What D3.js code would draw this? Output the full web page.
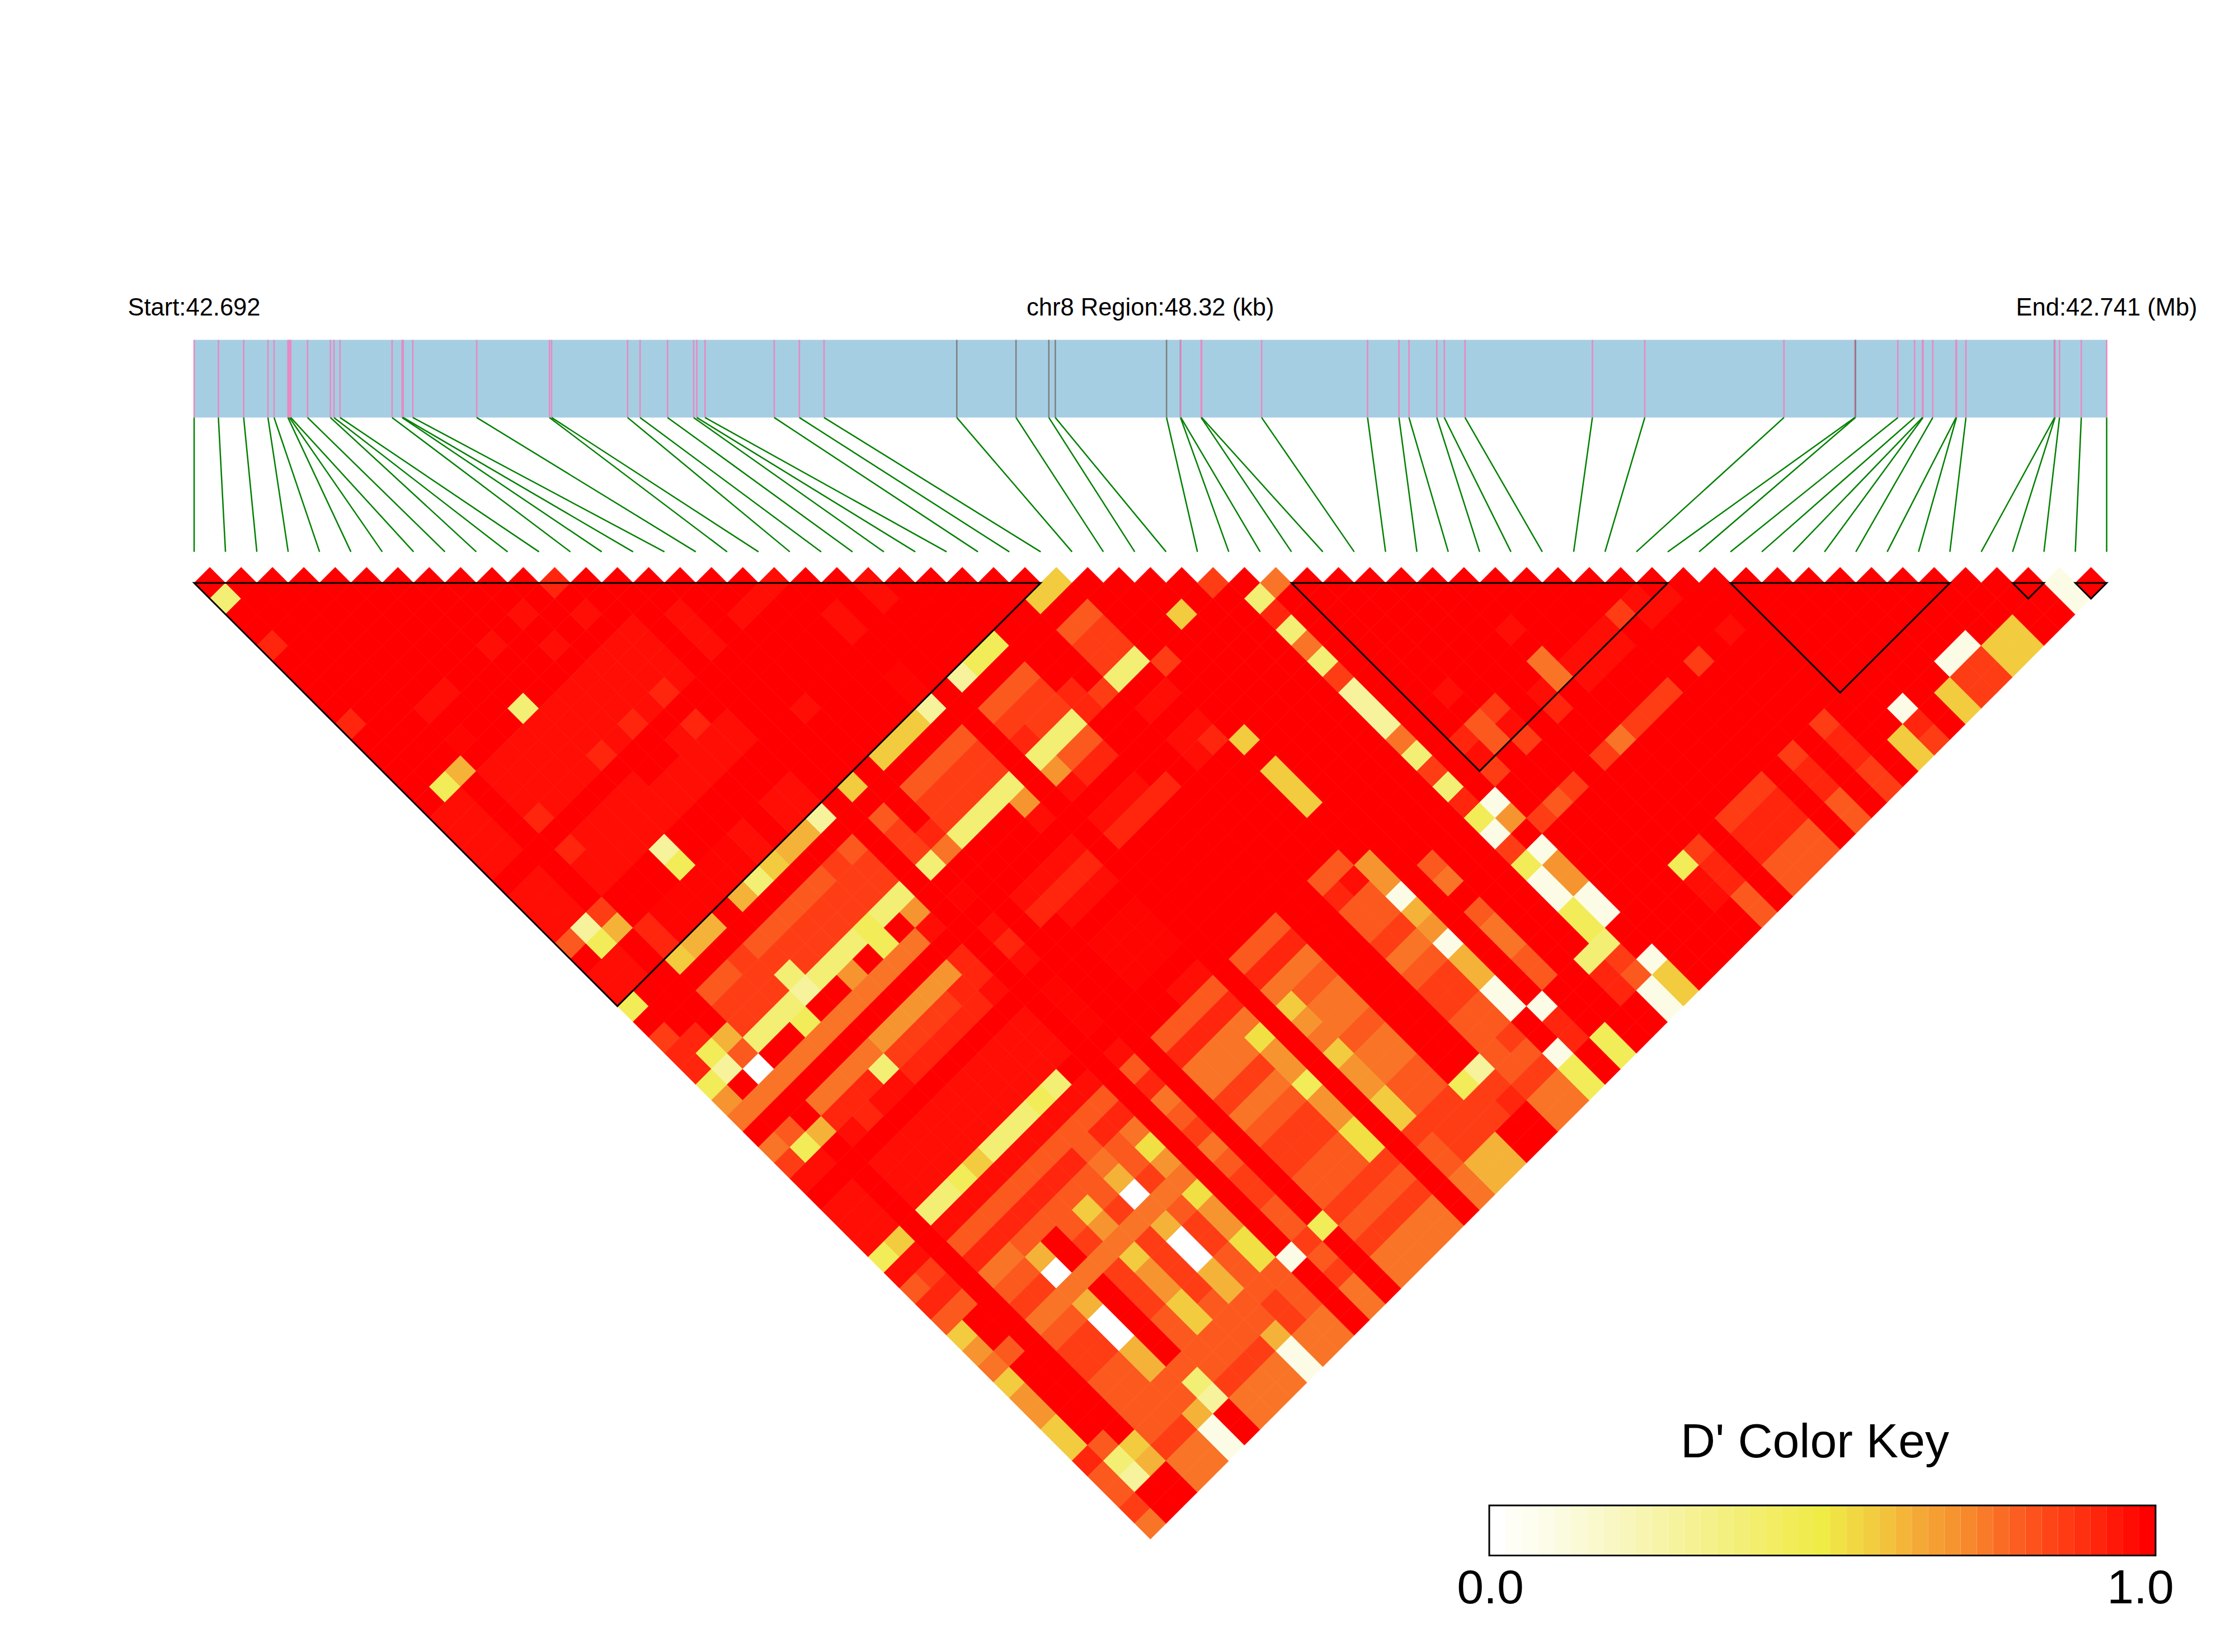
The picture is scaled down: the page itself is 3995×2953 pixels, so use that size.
<!DOCTYPE html>
<html>
<head>
<meta charset="utf-8">
<script src="https://cdn.jsdelivr.net/npm/d3@7"></script>
<style>html,body{margin:0;padding:0;background:#fff}svg{display:block}text{font-family:"Liberation Sans",Arial,sans-serif;fill:#000}</style>
</head>
<body>
<svg id="c" width="3995" height="2953"></svg>
<script>
// SNP positions along the region, in kb from its start
const regionKb = 48.32;
const snpKb = [0,0.613,1.252,1.865,2.02,2.37,2.407,2.442,2.866,3.443,3.533,3.686,5.002,5.255,5.282,5.525,7.139,8.978,9.032,10.952,11.267,11.961,12.62,12.7,12.908,14.656,15.292,15.914,19.268,20.765,21.594,21.757,24.568,24.92,24.93,25.442,25.456,26.97,29.647,30.44,30.693,31.396,31.585,32.109,35.327,36.651,40.167,41.956,41.974,43.044,43.466,43.665,43.68,43.927,44.515,44.526,44.765,47.005,47.016,47.129,47.679,48.32];
const greySnps = [28,29,30,31,32,33,48,57];
const blocks = [[0,27],[35,47],[49,56],[58,59],[60,61]];
const keyStops = [0,0.1,0.25,0.35,0.45,0.5,0.55,0.6,0.65,0.7,0.75,0.8,0.85,0.9,0.95,1];
const keyColours = ["#ffffff","#fbfbe0","#f7f4a8","#f4f080","#f1ec58","#efec46","#f1d842","#f3c23c","#f4a836","#f6952f","#f97a28","#fb5e20","#fe4518","#ff3010","#ff1808","#ff0000"];
const keySteps = 41;
const levels = {w:0,c:0.08,m:0.28,l:0.38,y:0.45,Y:0.53,h:0.58,g:0.63,q:0.7,p:0.76,o:0.81,t:0.87,s:0.92,r:0.97,z:0.99,R:1};
const baseD = 1;
// D' read per first SNP i: "j:level" or "jFrom-jTo:level"; unlisted pairs are at baseD
const rowD = [
"2:l 5:s 10:s 16-19:r 21-23:r 24:o 25:R 26-27:r 28:y 30:t 31-32:s 33:y 34:q 35:p 37:p 38:t 39:r 41-43:r 44:y 45:r 46:o 47:s 48:o 49:h 50:q 51:p 52:h 53-54:q 55-56:h 57:s 58:o 59:o 60:t 61:p",
"15:y 16-19:r 21-23:r 24:m 25:y 26-27:r 31:s 32:y 33:m 35:p 37:o 38:y 39:r 41-43:r 44:h 45:r 46:t 47:s 48:o 51:o 57:o 58:l 59:m",
"15:g 24:t 25:g 32:g 33:o 34:w 35:p 38:g 58:h 59:g",
"12:r 14:z 16-18:r 19:s 21:s 22-23:r 26-27:s 28:h 30:o 31:t 32:t 33:l 35:p 37:p 38:s 39:r 41-43:r 44:l 45:r 46:o 47:s 48:p 49:o 50:t 51:p 52:o 53-54:t 55-56:o 57:o 58:o 59:t 60-61:p",
"12:r 16-19:r 21-23:r 26-27:z 28:g 30:o 31:t 32:t 33:l 35:p 37:p 38:s 39:s 41-43:r 44:l 45:r 46:o 47:s 48:p 49:o 50:t 51:p 52:o 53-54:t 55-56:o 57:o 58:o 59:t 60-61:p",
"16-19:r 21-23:r 26-27:z 28:g 30:t 31:t 32:t 33:l 34:y 35:p 37:p 38:s 39:r 41-43:r 44:y 45:r 46:o 47:s 48:o 49:g 50:w 51:p 52:g 53-54:w 55-56:g 57:o 58:o 59:g 60-61:c",
"15:l 16-19:r 21-23:r 24:m 25:y 26-27:z 30:o 31:t 32:l 33:m 35:p 37:p 38:l 39:r 41-43:r 44:h 45:r 46:o 47:s 48:o 51:p 57:o 58:l 59:m",
"12:r 16-18:r 19:s 21-23:r 26-27:z 28:g 30:o 31:t 32:t 33:l 35:p 37:q 38:t 39:s 41-43:r 44:l 45:r 46:o 47:s 48:o 49:o 50:t 51:p 52:t 53-54:t 55-56:o 57:o 58:o 59:t 60-61:p",
"16-19:r 22-23:r 26-27:z 28:l 30:o 31:t 32:t 33:l 34:q 35:p 37:q 38:t 39:s 41-43:r 44:l 45:r 46:o 47:s 48:o 49:h 50:q 51:p 52:h 53-54:q 55-56:h 57:o 58:o 59:t 60-61:p",
"12:r 14:r 16-18:r 19:s 22-23:r 26-27:r 28:h 30:o 31:t 32:t 33:l 35:p 37:q 38:t 39:s 41-43:r 44:l 45:r 46:o 47:s 48:o 49:o 50:t 51:p 52:t 53-54:t 55:t 56:o 57:o 58:o 59:t 60-61:p",
"16-19:r 21-23:r 28:g 30:o 31:t 32:t 33:y 34:y 35:p 37:q 38:t 39:s 41-43:r 44:y 45:r 46:o 47:o 48:p 49:g 50:w 51:p 52:g 53-54:w 55-56:g 57:o 58:o 59:g 60-61:c",
"12:s 14:r 16-18:r 19:s 21:s 22-23:r 26-27:r 28:g 30:t 31:t 32:t 33:l 35:p 37:q 38:s 39:s 41-43:r 44:l 45:r 46:o 47:s 48:o 49:o 50:t 51:p 52:o 53-54:t 55-56:o 57:o 58:t 59:t 60-61:p",
"16-19:r 22-23:r 26-27:r 28:m 30:o 31:t 32:t 33:l 34:q 35:r 37:s 38:s 39:r 41-43:r 45:r 46:o 47:s 48:p 49:Y 50:q 51:p 52:Y 53-54:q 55-56:Y 57:o 58:o 59:o 60-61:p",
"57:c",
"17-19:r 28:h 30:o 31:t 32:t 33:l 35:z 37:r 38:s 39:r 41-43:z 45:r 46:o 47:s 48:p 49:o 50:t 51:p 52:o 53-54:t 55-56:o 57:t 58:o 59:t 60-61:p",
"24:r 32:s 33:p 57:y",
"19:r 28:h 30:o 31:t 32:t 33:l 37:r 38:s 46:o 47:s 48:p 49:p 50:t 51:p 52:o 53-54:t 55-56:o 57:t 58:o 59:t 60-61:p",
"19:r 28:h 30:o 31:t 32:t 33:l 37:r 38:s 39:r 41-43:z 46:o 47:s 48:p 49:p 50:t 51:p 52:o 53-54:t 55-56:o 57:t 58:o 59:t 60-61:p",
"19:r 28:h 30:o 31:t 32:t 33:l 37:r 38:s 39:r 41-43:z 45:r 46:o 47:s 48:p 49:p 50:t 51:p 52:o 53-54:t 55-56:o 57:t 58:o 59:t 60-61:p",
"22-23:r 26-27:z 28:m 30:o 31:t 32:t 33:l 34:q 35:r 37:r 38:s 39:r 41-43:z 45:r 46:o 47:s 48:p 49:Y 50:q 51:q 52:y 53-54:q 55-56:Y 57:t 58:o 59:t 60-61:p",
"",
"22-23:r 28:m 30:o 31:t 32:s 33:l 34:q 35:r 37:r 38:s 46:o 47:s 48:p 49:h 50:q 51:p 52:h 53-54:q 55-56:h 57:t 58:o 59:o 60-61:p",
"28:y 30:o 31:t 32:t 33:l 34:o 35:s 37:r 38:s 46:o 47:s 48:p 49:o 50:p 51:p 52:o 53-54:p 55-56:o 57:t 58:t 59:t 60-61:g",
"28:y 30:o 31:t 32:t 33:l 34:o 35:s 37:r 38:s 46:o 47:s 48:p 49:o 50:p 51:p 52:o 53-54:p 55-56:o 57:t 58:t 59:t 60-61:g",
"32:s 33:s 38:s 57:y 58:t 59:t",
"33:t 57:m 58:t 59:s",
"28:h 30:o 31-32:t 33:l 35:r 37:r 38:r 46:o 47:s 48:o 49:o 50:t 51:p 52:o 53-54:t 55-56:o 57:o 58:o 59:t 60-61:p",
"28:h 30:o 31-32:t 33:l 35:r 37:r 38:s 46:o 47:r 48:o 49:o 50:t 51:p 52:o 53-54:t 55-56:o 57:t 58:o 59:t 60-61:p",
"34:t 39:h 41-43:h 47-48:q 49:c 50:g 51:q 52:c 53-54:g 55-56:c 59:c 60-61:y",
"57:c 58-59:s",
"33:h 49:o 50:p 52:o 53-54:p 55-56:o 60-61:y",
"",
"33:t 57:l 58-59:s",
"35:l 36:s 37:l 38:p 39:l 40:t 41-43:m 44:p 45:l 46:t 47:l 48:s 49:y 50:c 51:t 52:y 53-54:c 55-56:y 57:l 58:t 59:o 60-61:c",
"35:p 49:c 50:q 52:c 53-54:q 55-56:c 59:c 60-61:h",
"46:s 47:r 48:t 51:t",
"44:r 46-47:o 51:o",
"46:t 47:r 48:t 51:t",
"57:y 58-59:r",
"47:r 48:s 51:t 57:t 58-59:s 60-61:o",
"44:r 46-47:p 51:p",
"47-48:r 51:t 57:t 58:s 59:s 60-61:o",
"47-48:r 51:t 57:t 58:s 59:s 60-61:o",
"47-48:r 51:t 57:t 58:s 59:s 60-61:o",
"47:t",
"47-48:r 51:t 57:t 58-59:s 60-61:o",
"48:r",
"51:r 57:t 58-59:s 60-61:t",
"",
"60-61:h",
"59:c 60:s 61:t",
"",
"60-61:h",
"59:c 60-61:t",
"59:c 60-61:t",
"60-61:h",
"60-61:h",
"","",
"60-61:c",
""
];

const svg = d3.select("#c");
const n = snpKb.length;
const stepX = (3765.6 - 347) / (n - 1);
const xIdx = d3.scaleLinear().domain([0, n - 1]).range([347, 3765.6]);
const xKb = d3.scaleLinear().domain([0, regionKb]).range([347, 3765.6]);
const yLag = d3.scaleLinear().domain([1, n - 1]).range([1042, 1042 + (n - 2) * stepX / 2]);
const colour = d3.scaleLinear().domain(keyStops).range(keyColours).interpolate(d3.interpolateRgb);

// expand rows to pairs
const dMap = new Map();
rowD.forEach((row, i) => {
  row.split(" ").filter(Boolean).forEach(tok => {
    const [span, lv] = tok.split(":");
    const [a, b] = span.split("-").map(Number);
    for (let j = a; j <= (b === undefined ? a : b); j++) dMap.set(i + "," + j, levels[lv]);
  });
});
const pairs = [];
for (let i = 0; i < n - 1; i++) for (let j = i + 1; j < n; j++) {
  const v = dMap.get(i + "," + j);
  pairs.push({i, j, d: v === undefined ? baseD : v});
}

// gene track
const trackTop = 607.5, trackBottom = 746.4, connectorBottom = 986.4;
svg.append("rect").attr("x", xKb(0)).attr("y", trackTop).attr("width", xKb(regionKb) - xKb(0)).attr("height", trackBottom - trackTop).attr("fill", "#a6cee3");
const snps = snpKb.map((kb, k) => ({kb, k, grey: greySnps.includes(k)}));
svg.append("g").selectAll("line").data(snps).join("line")
  .attr("x1", d => xKb(d.kb)).attr("x2", d => xKb(d.kb)).attr("y1", trackTop).attr("y2", trackBottom)
  .attr("stroke", d => d.grey ? "#808080" : "#e78ac3").attr("stroke-width", 2.6);
svg.append("g").selectAll("line").data(snps).join("line")
  .attr("x1", d => xKb(d.kb)).attr("y1", trackBottom).attr("x2", d => xIdx(d.k)).attr("y2", connectorBottom)
  .attr("stroke", "#008000").attr("stroke-width", 2.5);

// heat cells
const half = stepX / 2;
const cellPath = d => {
  const cx = xIdx((d.i + d.j) / 2), cy = yLag(d.j - d.i);
  return `M${cx},${cy - half}L${cx + half},${cy}L${cx},${cy + half}L${cx - half},${cy}Z`;
};
svg.append("g").selectAll("path").data(pairs).join("path").attr("d", cellPath)
  .attr("fill", d => colour(d.d)).attr("stroke", d => colour(d.d)).attr("stroke-width", 0.7);

// LD blocks
svg.append("g").selectAll("path").data(blocks).join("path")
  .attr("d", ([s, e]) => `M${xIdx(s)},${yLag(1)}L${xIdx(e)},${yLag(1)}L${xIdx((s + e) / 2)},${yLag(1) + (e - s) * half}Z`)
  .attr("fill", "none").attr("stroke", "#000").attr("stroke-width", 3).attr("stroke-linejoin", "miter");

// labels
const labels = [["Start:42.692", xIdx(0)], ["chr8 Region:48.32 (kb)", (xIdx(0) + xIdx(n - 1)) / 2], ["End:42.741 (Mb)", xIdx(n - 1)]];
svg.append("g").selectAll("text").data(labels).join("text")
  .attr("x", d => d[1]).attr("y", 564).attr("text-anchor", "middle").attr("font-size", 43.5).text(d => d[0]);

// colour key
const keyLeft = 2662, keyRight = 3853, keyTop = 2691, keyBottom = 2780.5;
const keyX = d3.scaleLinear().domain([0, keySteps]).range([keyLeft, keyRight]);
svg.append("g").selectAll("rect").data(d3.range(keySteps)).join("rect")
  .attr("x", d => keyX(d)).attr("y", keyTop).attr("width", d => keyX(d + 1) - keyX(d)).attr("height", keyBottom - keyTop)
  .attr("fill", d => colour(d / (keySteps - 1)));
svg.append("rect").attr("x", keyLeft).attr("y", keyTop).attr("width", keyRight - keyLeft).attr("height", keyBottom - keyTop)
  .attr("fill", "none").attr("stroke", "#000").attr("stroke-width", 3);
svg.append("text").attr("x", 3244).attr("y", 2605).attr("text-anchor", "middle").attr("font-size", 86).text("D' Color Key");
svg.append("text").attr("x", 2664).attr("y", 2866).attr("text-anchor", "middle").attr("font-size", 86).text("0.0");
svg.append("text").attr("x", 3826).attr("y", 2866).attr("text-anchor", "middle").attr("font-size", 86).text("1.0");
</script>
</body>
</html>
